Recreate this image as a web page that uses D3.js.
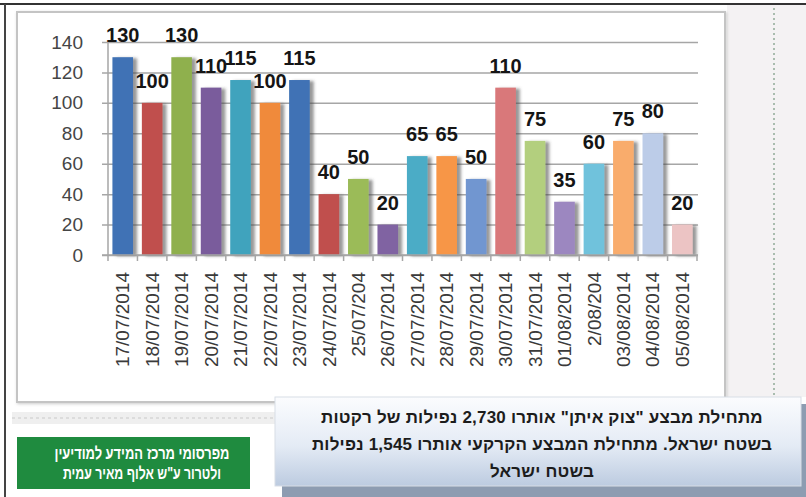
<!DOCTYPE html>
<html>
<head>
<meta charset="utf-8">
<script src="https://cdn.jsdelivr.net/npm/d3@7"></script>
<style>
  body { margin: 0; background: #fff; }
  svg { display: block; }
</style>
</head>
<body>
<script>
// rockets fired at Israel per day, Operation Protective Edge
const dates = ["17/07/2014", "18/07/2014", "19/07/2014", "20/07/2014", "21/07/2014",
  "22/07/2014", "23/07/2014", "24/07/2014", "25/07/204", "26/07/2014",
  "27/07/2014", "28/07/2014", "29/07/2014", "30/07/2014", "31/07/2014",
  "01/08/2014", "2/08/204", "03/08/2014", "04/08/2014", "05/08/2014"];
const counts = [130, 100, 130, 110, 115, 100, 115, 40, 50, 20,
  65, 65, 50, 110, 75, 35, 60, 75, 80, 20];
const yTicks = [0, 20, 40, 60, 80, 100, 120, 140];
const palette = ["#3f72b5", "#c0504d", "#8fb04e", "#7a5c9c", "#3fa3bd", "#f08a3a",
  "#3f72b5", "#c0504d", "#9bbb59", "#8064a2", "#4bacc6", "#f79646",
  "#7196d0", "#d9787a", "#b3cf7e", "#9c87c0", "#6fc2dc", "#f9ac6c",
  "#bccce8", "#ecc4c4"];
const noteLines = [
  "מתחילת מבצע \"צוק איתן\" אותרו 2,730 נפילות של רקטות",
  "בשטח ישראל. מתחילת המבצע הקרקעי אותרו 1,545 נפילות",
  "בשטח ישראל"
];
const creditLines = ["מפרסומי מרכז המידע למודיעין", "ולטרור ע\"ש אלוף מאיר עמית"];
const creditWidths = [175, 158];

const width = 806, height = 497;

const svg = d3.select("body").append("svg")
  .attr("width", width)
  .attr("height", height);

const defs = svg.append("defs");
defs.append("filter").attr("id", "barShadow")
  .attr("x", "-20%").attr("y", "-10%").attr("width", "160%").attr("height", "130%")
  .append("feDropShadow")
  .attr("dx", 4).attr("dy", 1).attr("stdDeviation", 1.8)
  .attr("flood-color", "#444").attr("flood-opacity", 0.55);
defs.append("filter").attr("id", "panelShadow")
  .append("feDropShadow")
  .attr("dx", 1).attr("dy", 1).attr("stdDeviation", 1.5)
  .attr("flood-color", "#999").attr("flood-opacity", 0.5);
const noteGrad = defs.append("linearGradient").attr("id", "noteGrad")
  .attr("x1", 0).attr("y1", 0).attr("x2", 0).attr("y2", 1);
noteGrad.append("stop").attr("offset", "0%").attr("stop-color", "#fbfcfe");
noteGrad.append("stop").attr("offset", "55%").attr("stop-color", "#e4ebf5");
noteGrad.append("stop").attr("offset", "100%").attr("stop-color", "#bccbe0");

// page background bits
svg.append("rect").attr("x", 727).attr("y", 5).attr("width", 79).attr("height", 392)
  .attr("fill", "#f4f2f3");
svg.append("line").attr("x1", 774).attr("x2", 774).attr("y1", 8).attr("y2", 395)
  .attr("stroke", "#a9bcae").attr("stroke-width", 2).attr("stroke-dasharray", "2,3");
svg.append("rect").attr("x", 12).attr("y", 412).attr("width", 265).attr("height", 12)
  .attr("fill", "#efefef");
svg.append("line").attr("x1", 12).attr("x2", 277).attr("y1", 418).attr("y2", 418)
  .attr("stroke", "#dcdcdc").attr("stroke-width", 2).attr("stroke-dasharray", "3,3");

// frame lines
svg.append("line").attr("x1", 0).attr("x2", width).attr("y1", 4).attr("y2", 4)
  .attr("stroke", "#333").attr("stroke-width", 2);
svg.append("line").attr("x1", 5).attr("x2", 5).attr("y1", 4).attr("y2", height)
  .attr("stroke", "#444").attr("stroke-width", 2);

// chart panel
svg.append("rect").attr("x", 17).attr("y", 12).attr("width", 708).attr("height", 390)
  .attr("fill", "#fff").attr("stroke", "#c4c4c4").attr("stroke-width", 2)
  .attr("filter", "url(#panelShadow)");

const x = d3.scaleBand().domain(dates).range([108, 697])
  .paddingInner(0.3).paddingOuter(0.15);
const y = d3.scaleLinear().domain([0, 140]).range([255, 42]);
const color = d3.scaleOrdinal().domain(dates).range(palette);

// y axis + gridlines
svg.append("g")
  .attr("transform", "translate(108,0)")
  .call(d3.axisLeft(y).tickValues(yTicks).tickSizeInner(0).tickSizeOuter(0).tickPadding(25))
  .call(g => g.select(".domain").remove())
  .call(g => g.selectAll(".tick line").attr("x1", -6).attr("x2", 590)
    .attr("stroke", "#a6a6a6").attr("stroke-width", 1.5))
  .call(g => g.selectAll(".tick text")
    .attr("fill", "#454545")
    .style("font", "19px 'Liberation Sans', Arial, sans-serif"));

svg.append("line").attr("x1", 108).attr("x2", 108).attr("y1", y(140)).attr("y2", y(0))
  .attr("stroke", "#a6a6a6").attr("stroke-width", 1.5);

// bars
svg.append("g").selectAll("rect")
  .data(counts)
  .join("rect")
  .attr("x", (d, i) => x(dates[i]))
  .attr("y", d => y(d))
  .attr("width", x.bandwidth())
  .attr("height", d => y(0) - y(d))
  .attr("fill", (d, i) => color(dates[i]))
  .attr("filter", "url(#barShadow)");

// x axis
const xAxis = svg.append("g")
  .attr("transform", `translate(0,${y(0)})`)
  .call(d3.axisBottom(x).tickSize(0).tickSizeOuter(0))
  .call(g => g.select(".domain").attr("stroke", "#a6a6a6").attr("stroke-width", 1.5)
    .attr("d", "M102,0H698"))
  .call(g => g.selectAll(".tick text")
    .attr("transform", "rotate(-90)")
    .attr("text-anchor", "end")
    .attr("x", -17).attr("y", 0).attr("dy", "0.35em")
    .attr("fill", "#3a3a3a")
    .style("font", "19px 'Liberation Sans', Arial, sans-serif"));

xAxis.append("g").selectAll("line")
  .data(d3.range(dates.length + 1))
  .join("line")
  .attr("x1", i => x.range()[0] + x.step() * (x.paddingOuter() - x.paddingInner() / 2) + i * x.step())
  .attr("x2", i => x.range()[0] + x.step() * (x.paddingOuter() - x.paddingInner() / 2) + i * x.step())
  .attr("y1", 0).attr("y2", 6)
  .attr("stroke", "#a6a6a6").attr("stroke-width", 1.5);

// value labels
svg.append("g").selectAll("text")
  .data(counts)
  .join("text")
  .attr("x", (d, i) => x(dates[i]) + x.bandwidth() / 2)
  .attr("y", d => y(d) - 15)
  .attr("text-anchor", "middle")
  .attr("fill", "#151515")
  .style("font", "bold 20px 'Liberation Sans', Arial, sans-serif")
  .text(d => d);

// note box
svg.append("rect").attr("x", 282).attr("y", 404).attr("width", 524).attr("height", 93)
  .attr("fill", "#8d9cb1");
svg.append("rect").attr("x", 275).attr("y", 397).attr("width", 526).attr("height", 89)
  .attr("fill", "url(#noteGrad)").attr("stroke", "#d8dde6").attr("stroke-width", 1);
svg.append("g").selectAll("text")
  .data(noteLines)
  .join("text")
  .attr("x", 542)
  .attr("y", (d, i) => 423 + i * 27)
  .attr("text-anchor", "middle")
  .attr("fill", "#1c1c1c")
  .style("direction", "rtl")
  .style("letter-spacing", "0.2px")
  .style("font", "bold 17px 'Liberation Sans', Arial, sans-serif")
  .text(d => d);

// credit box
svg.append("rect").attr("x", 17).attr("y", 437).attr("width", 233).attr("height", 52)
  .attr("fill", "#1f8b3f");
svg.append("g").selectAll("text")
  .data(creditLines)
  .join("text")
  .attr("x", 142)
  .attr("y", (d, i) => 459 + i * 20)
  .attr("text-anchor", "middle")
  .attr("fill", "#fff")
  .attr("textLength", (d, i) => creditWidths[i])
  .attr("lengthAdjust", "spacingAndGlyphs")
  .style("direction", "rtl")
  .style("font", "bold 17px 'Liberation Sans', Arial, sans-serif")
  .text(d => d);
</script>
</body>
</html>
